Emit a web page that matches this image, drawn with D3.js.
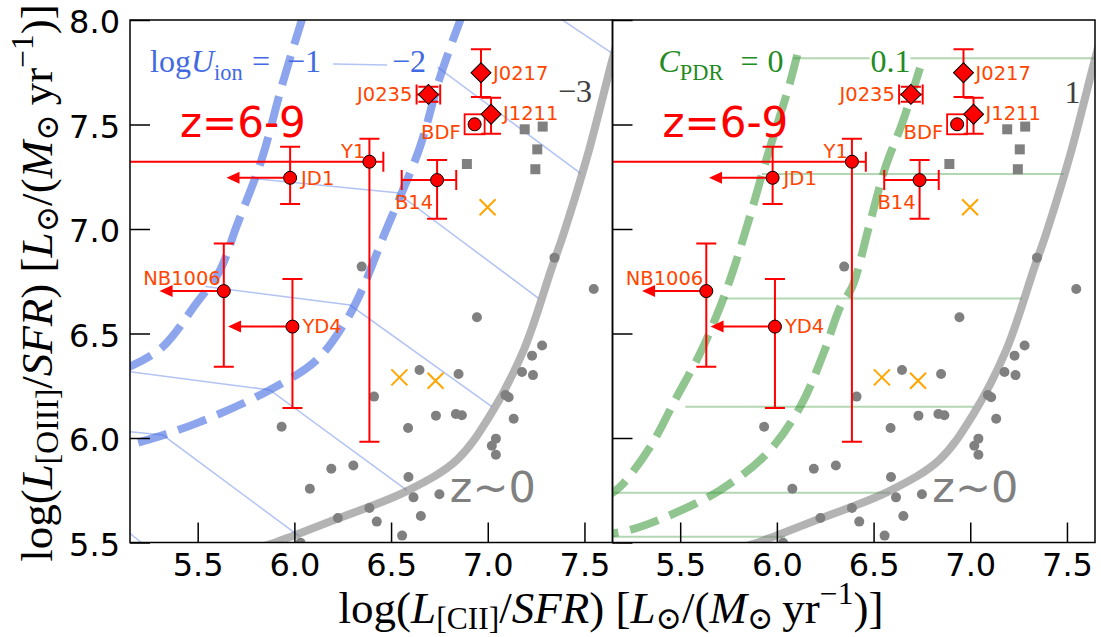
<!DOCTYPE html>
<html>
<head>
<meta charset="utf-8">
<script src="https://cdn.jsdelivr.net/npm/d3@7"></script>
<style>
  body { margin: 0; background: #fff; }
  text { font-family: "DejaVu Sans", sans-serif; }
  .serif, .serif tspan { font-family: "Liberation Serif", "DejaVu Serif", serif; }
</style>
</head>
<body>
<script>
// ---- data ----
const xDomain = [5.15, 7.645];
const yDomain = [5.5, 8.0];
const xTicks = [5.5, 6.0, 6.5, 7.0, 7.5];
const yTicks = [5.5, 6.0, 6.5, 7.0, 7.5, 8.0];

// z=6-9 galaxies
const galNames = ["JD1", "Y1", "B14", "BDF", "J0217", "J1211", "J0235", "NB1006", "YD4"];
const galX = [5.978, 6.388, 6.738, 6.932, 6.965, 7.017, 6.693, 5.635, 5.99];
const galY = [7.245, 7.322, 7.234, 7.501, 7.748, 7.549, 7.644, 6.703, 6.533];
const galXLo = [null, 4.5, 6.555, null, null, null, 6.632, null, null];
const galXHi = [null, 6.46, 6.837, null, null, null, 6.754, null, null];
const galYLo = [7.12, 5.982, 7.049, null, 7.632, 7.456, 7.609, 6.341, 6.144];
const galYHi = [7.394, 7.432, 7.33, null, 7.86, 7.628, 7.681, 6.931, 6.761];
const galXLimit = [5.649, null, null, null, null, null, null, 5.303, 5.657]; // upper limits on x
const galShape = ["circle", "circle", "circle", "circle", "diamond", "diamond", "diamond", "circle", "circle"];
const boxedNames = ["BDF"];

// local galaxies (z~0)
const localX = [6.348, 7.548, 6.944, 7.345, 7.281, 7.229, 7.177, 7.234, 6.647, 6.849, 6.412, 7.091, 7.108, 6.732, 6.835, 6.866, 7.134, 6.588, 5.934, 7.042, 7.021, 7.042, 6.191, 6.305, 6.08, 6.59, 6.616, 6.75, 6.388, 6.225, 6.426, 6.654, 6.557, 6.032];
const localY = [6.82, 6.713, 6.578, 6.863, 6.443, 6.394, 6.316, 6.301, 6.325, 6.306, 6.198, 6.206, 6.195, 6.107, 6.115, 6.109, 6.092, 6.048, 6.054, 5.997, 5.963, 5.92, 5.853, 5.868, 5.757, 5.813, 5.716, 5.731, 5.665, 5.617, 5.6, 5.627, 5.533, 5.499];
const sqX = [7.191, 7.284, 7.256, 7.246, 6.892];
const sqY = [7.477, 7.49, 7.381, 7.286, 7.311];
const crossX = [6.999, 6.543, 6.73];
const crossY = [7.104, 6.29, 6.274];

// z~0 relation
const relX = [5.85, 5.89, 5.999, 6.218, 6.581, 6.84, 7.013, 7.186, 7.333, 7.393, 7.514, 7.635, 7.67];
const relY = [5.485, 5.496, 5.534, 5.612, 5.746, 5.895, 6.11, 6.421, 6.82, 6.98, 7.346, 7.777, 7.9];

// model tracks, logU = -1, -2
const u1X = [6.045, 5.934, 5.83, 5.70, 5.614, 5.493, 5.32, 5.165, 5.10];
const u1Y = [8.02, 7.681, 7.33, 7.011, 6.80, 6.644, 6.437, 6.349, 6.33];
const u2X = [6.87, 6.754, 6.65, 6.547, 6.46, 6.357, 6.27, 6.115, 5.873, 5.493, 5.208, 5.10];
const u2Y = [8.03, 7.729, 7.394, 7.155, 6.963, 6.724, 6.565, 6.373, 6.23, 6.07, 5.982, 5.955];
const uGridX = [[6.20, 6.48], [6.74, 7.48], [7.37, 7.66], [5.80, 6.53, 7.263], [5.54, 6.288, 7.021], [5.10, 5.873, 6.581], [5.10, 5.32, 6.028], [5.10, 5.22]];
const uGridY = [[7.79, 7.785], [7.775, 7.266], [8.01, 7.83], [7.24, 7.174, 6.668], [6.725, 6.636, 6.15], [6.323, 6.23, 5.751], [6.034, 6.014, 5.528], [5.581, 5.491]];

// model tracks, C_PDR = 0, 0.1
const c0X = [6.105, 6.062, 5.95, 5.855, 5.769, 5.70, 5.603, 5.483, 5.345, 5.19, 5.12];
const c0Y = [7.833, 7.681, 7.346, 7.043, 6.788, 6.612, 6.405, 6.198, 5.958, 5.767, 5.72];
const c1X = [6.74, 6.648, 6.562, 6.476, 6.39, 6.328, 6.241, 6.121, 5.949, 5.707, 5.431, 5.241, 5.12];
const c1Y = [7.77, 7.506, 7.298, 7.011, 6.724, 6.628, 6.405, 6.15, 5.926, 5.751, 5.624, 5.56, 5.54];
const cGridX = [[6.085, 6.48], [6.69, 7.66], [5.923, 7.483], [5.733, 7.268], [5.526, 7.017], [5.10, 6.586], [5.10, 6.043]];
const cGridY = [[7.817, 7.817], [7.817, 7.817], [7.263, 7.263], [6.668, 6.668], [6.15, 6.15], [5.738, 5.738], [5.528, 5.528]];

// ---- layout ----
const W = 482.5, H = 522.5;
const panelTop = 20, leftA = 130, leftB = 612.5;
const labelPos = { // px offset from marker, anchor
  JD1: [11, 7, "start"], Y1: [-4, -4, "end"], B14: [-4, 29, "end"], BDF: [-14, 15, "end"],
  J0217: [12, 7, "start"], J1211: [12, 6, "start"], J0235: [-16, 7, "end"],
  NB1006: [-3, -6, "end"], YD4: [10, 6, "start"]
};

const svg = d3.select("body").append("svg").attr("width", 1101).attr("height", 637);

const x = d3.scaleLinear().domain(xDomain).range([0, W]);
const y = d3.scaleLinear().domain(yDomain).range([H, 0]);
const line = d3.line().x(d => x(d[0])).y(d => y(d[1]));
const smooth = d3.line().x(d => x(d[0])).y(d => y(d[1])).curve(d3.curveCatmullRom);
const zip = (a, b) => a.map((v, i) => [v, b[i]]);

const galaxies = galNames.map((n, i) => ({
  name: n, x: galX[i], y: galY[i], xlo: galXLo[i], xhi: galXHi[i],
  ylo: galYLo[i], yhi: galYHi[i], lim: galXLimit[i], shape: galShape[i]
}));

function richText(sel, segs, subShift = 0.22) {
  let shift = 0;
  segs.forEach(s => {
    const size = s.sub || s.sup ? 0.7 : 1;
    const want = s.sub ? subShift : s.sup ? -0.42 : 0;
    const t = sel.append("tspan").text(s.t);
    if (s.it) t.attr("font-style", "italic");
    if (size !== 1) t.attr("font-size", "70%");
    if (want !== shift) t.attr("dy", ((want - shift) / size) + "em");
    shift = want;
  });
}

function fitWidth(t, target) {
  const w = t.node().getBBox().width;
  const fs = +t.attr("font-size");
  if (w > 0) t.attr("font-size", fs * target / w);
}

// math-like label built from pieces placed at given x offsets
function mathLabel(p, x0, y0, color, pieces) {
  pieces.forEach(([dx, segs]) => {
    const t = p.append("text").attr("class", "serif").attr("x", x0 + dx).attr("y", y0)
      .attr("font-size", 32).attr("fill", color);
    richText(t, segs, 0.25);
  });
}

function drawPanel(ox, id, kind) {
  const g = svg.append("g").attr("transform", `translate(${ox},${panelTop})`);
  svg.append("clipPath").attr("id", id).append("rect").attr("width", W).attr("height", H);
  const p = g.append("g").attr("clip-path", `url(#${id})`);

  if (kind === "U") {
    uGridX.forEach((xs, i) => p.append("path").attr("d", line(zip(xs, uGridY[i])))
      .attr("fill", "none").attr("stroke", "royalblue").attr("stroke-opacity", 0.4).attr("stroke-width", 1.5));
    [[u1X, u1Y], [u2X, u2Y]].forEach(([xs, ys]) => p.append("path").attr("d", smooth(zip(xs, ys)))
      .attr("fill", "none").attr("stroke", "royalblue").attr("stroke-opacity", 0.6)
      .attr("stroke-width", 8).attr("stroke-dasharray", "30,12"));
  } else {
    cGridX.forEach((xs, i) => p.append("path").attr("d", line(zip(xs, cGridY[i])))
      .attr("fill", "none").attr("stroke", "forestgreen").attr("stroke-opacity", 0.35).attr("stroke-width", 2));
    [[c0X, c0Y], [c1X, c1Y]].forEach(([xs, ys]) => p.append("path").attr("d", smooth(zip(xs, ys)))
      .attr("fill", "none").attr("stroke", "forestgreen").attr("stroke-opacity", 0.5)
      .attr("stroke-width", 8).attr("stroke-dasharray", "30,12"));
  }

  // z~0 relation
  p.append("path").attr("d", smooth(zip(relX, relY)))
    .attr("fill", "none").attr("stroke", "gray").attr("stroke-opacity", 0.6).attr("stroke-width", 8);

  // local galaxies
  p.selectAll(".loc").data(zip(localX, localY)).enter().append("circle")
    .attr("cx", d => x(d[0])).attr("cy", d => y(d[1])).attr("r", 5).attr("fill", "gray");
  p.selectAll(".sq").data(zip(sqX, sqY)).enter().append("rect")
    .attr("x", d => x(d[0]) - 5).attr("y", d => y(d[1]) - 5).attr("width", 10).attr("height", 10).attr("fill", "gray");
  p.selectAll(".cr").data(zip(crossX, crossY)).enter().append("path")
    .attr("d", d => { const cx = x(d[0]), cy = y(d[1]), r = 8; return `M${cx - r},${cy - r}L${cx + r},${cy + r}M${cx - r},${cy + r}L${cx + r},${cy - r}`; })
    .attr("stroke", "orange").attr("stroke-width", 2).attr("fill", "none");

  // error bars
  const eb = p.append("g").attr("stroke", "red").attr("stroke-width", 2).attr("fill", "none");
  const cap = 10;
  galaxies.forEach(d => {
    const cx = x(d.x), cy = y(d.y);
    if (d.xlo != null) {
      eb.append("path").attr("d", `M${x(d.xlo)},${cy}H${x(d.xhi)}M${x(d.xlo)},${cy - cap}V${cy + cap}M${x(d.xhi)},${cy - cap}V${cy + cap}`);
    }
    if (d.ylo != null) {
      eb.append("path").attr("d", `M${cx},${y(d.ylo)}V${y(d.yhi)}M${cx - cap},${y(d.ylo)}H${cx + cap}M${cx - cap},${y(d.yhi)}H${cx + cap}`);
    }
    if (d.lim != null) {
      const tip = x(d.lim);
      eb.append("path").attr("d", `M${cx},${cy}H${tip + 12}`);
      p.append("path").attr("d", `M${tip},${cy}L${tip + 13},${cy - 6}L${tip + 13},${cy + 6}Z`).attr("fill", "red");
    }
  });

  // boxed marker
  galaxies.filter(d => boxedNames.includes(d.name)).forEach(d => {
    p.append("rect").attr("x", x(d.x) - 10).attr("y", y(d.y) - 10).attr("width", 20).attr("height", 20)
      .attr("fill", "none").attr("stroke", "red").attr("stroke-width", 1.8);
  });

  // markers
  galaxies.forEach(d => {
    const cx = x(d.x), cy = y(d.y);
    if (d.shape === "circle") {
      p.append("circle").attr("cx", cx).attr("cy", cy).attr("r", 6.5)
        .attr("fill", "red").attr("stroke", "black").attr("stroke-width", 1);
    } else {
      p.append("path").attr("d", d3.symbol(d3.symbolSquare, 200)())
        .attr("transform", `translate(${cx},${cy}) rotate(45)`)
        .attr("fill", "red").attr("stroke", "black").attr("stroke-width", 1);
    }
    const lp = labelPos[d.name];
    p.append("text").attr("x", cx + lp[0]).attr("y", cy + lp[1]).attr("text-anchor", lp[2])
      .attr("font-size", 19.5).attr("fill", "orangered").text(d.name);
  });

  // panel texts
  p.append("text").attr("x", 50).attr("y", 117).attr("font-size", 42).attr("fill", "red").text("z=6-9");
  p.append("text").attr("x", x(6.804)).attr("y", 482).attr("font-size", 43).attr("fill", "gray").text("z~0");

  if (kind === "U") {
    mathLabel(p, 20, 52, "royalblue", [
      [0, [{ t: "log" }, { t: "U", it: true }, { t: "ion", sub: true }]],
      [102, [{ t: "=" }]], [137, [{ t: "\u22121" }]], [242, [{ t: "\u22122" }]]
    ]);
    mathLabel(p, 428, 82, "#404040", [[0, [{ t: "\u22123" }]]]);
  } else {
    mathLabel(p, 46, 52, "forestgreen", [
      [0, [{ t: "C", it: true }, { t: "PDR", sub: true }]],
      [82, [{ t: "=" }]], [109, [{ t: "0" }]], [212, [{ t: "0.1" }]]
    ]);
    mathLabel(p, 452, 83, "#404040", [[0, [{ t: "1" }]]]);
  }

  // axes
  const ax = g.append("g").attr("transform", `translate(0,${H})`)
    .call(d3.axisBottom(x).tickValues(xTicks).tickSizeInner(-20).tickSizeOuter(0).tickPadding(11).tickFormat(d3.format(".1f")));
  const ay = g.append("g")
    .call(d3.axisLeft(y).tickValues(yTicks).tickSizeInner(-20).tickSizeOuter(0).tickPadding(10).tickFormat(d3.format(".1f")));
  [ax, ay].forEach(a => {
    a.select(".domain").remove();
    a.selectAll("line").attr("stroke", "black").attr("stroke-width", 1.5);
    a.selectAll("text").attr("font-size", 32).attr("font-family", "DejaVu Sans").attr("fill", "black");
  });
  ay.selectAll("text").attr("dy", "0.4em");
  if (kind !== "U") ay.selectAll("text").remove();

  g.append("rect").attr("width", W).attr("height", H).attr("fill", "none")
    .attr("stroke", "black").attr("stroke-width", 1.5);
}

drawPanel(leftA, "clipA", "U");
drawPanel(leftB, "clipB", "C");

// axis titles
const unit = [{ t: " [" }, { t: "L", it: true }, { t: "\u2299", sub: true }, { t: "/(" }, { t: "M", it: true },
  { t: "\u2299", sub: true }, { t: "\u2009yr" }, { t: "\u22121", sup: true }, { t: ")]" }];
const xl = svg.append("text").attr("class", "serif").attr("x", 611).attr("y", 623)
  .attr("text-anchor", "middle").attr("font-size", 34).attr("fill", "black");
richText(xl, [{ t: "log(" }, { t: "L", it: true }, { t: "[CII]", sub: true }, { t: "/" }, { t: "SFR", it: true }, { t: ")" }].concat(unit), 0.14);
fitWidth(xl, 545);

const yl = svg.append("text").attr("class", "serif")
  .attr("transform", "translate(52,283) rotate(-90)")
  .attr("text-anchor", "middle").attr("font-size", 34).attr("fill", "black");
richText(yl, [{ t: "log(" }, { t: "L", it: true }, { t: "[OIII]", sub: true }, { t: "/" }, { t: "SFR", it: true }, { t: ")" }].concat(unit), 0.14);
fitWidth(yl, 558);
</script>
</body>
</html>
